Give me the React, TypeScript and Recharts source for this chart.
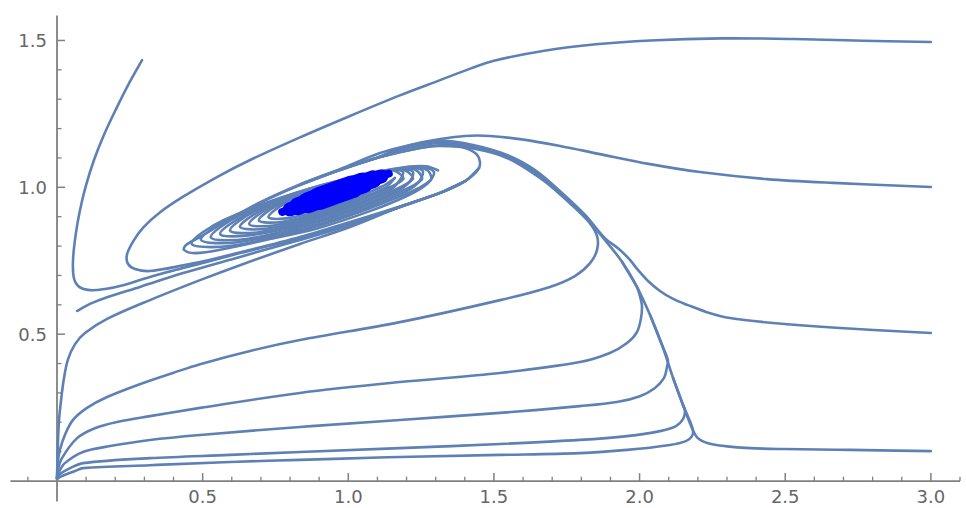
import React from 'react';
import { LineChart, Line, XAxis, YAxis, ReferenceLine } from 'recharts';

// ---- trajectories (x, y) ----
const trajA = [[3.0,1.495],[2.77,1.499],[2.527,1.505],[2.279,1.507],[2.036,1.5],[1.85,1.487],[1.668,1.464],[1.5,1.431],[1.421,1.405],[1.315,1.365],[1.177,1.313],[1.006,1.243],[0.834,1.17],[0.663,1.093],[0.549,1.035],[0.433,0.968],[0.354,0.915],[0.295,0.862],[0.261,0.815],[0.24,0.77],[0.244,0.739],[0.268,0.722],[0.319,0.715],[0.491,0.746],[0.663,0.787],[0.834,0.831],[1.006,0.882],[1.177,0.935],[1.315,0.981],[1.401,1.021],[1.449,1.066]];
const trajB = [[0.292,1.433],[0.244,1.348],[0.201,1.263],[0.161,1.178],[0.127,1.093],[0.1,1.008],[0.079,0.923],[0.064,0.838],[0.055,0.752],[0.058,0.691],[0.076,0.661],[0.113,0.65],[0.165,0.654],[0.227,0.667],[0.319,0.695],[0.433,0.725],[0.628,0.776],[0.834,0.827],[1.006,0.875],[1.177,0.933],[1.315,0.981],[1.401,1.021]];
const trajS = [[0.069,0.579],[0.113,0.603],[0.172,0.626],[0.285,0.661],[0.433,0.708],[0.628,0.763],[0.834,0.821],[1.006,0.872],[1.177,0.933],[1.315,0.981]];
const trajF = [[0,0.01],[0.003,0.123],[0.007,0.208],[0.014,0.276],[0.024,0.351],[0.038,0.415],[0.062,0.466],[0.096,0.504],[0.172,0.552],[0.319,0.616],[0.491,0.684],[0.628,0.735],[0.834,0.807],[1.006,0.865],[1.177,0.933],[1.315,0.981],[1.401,1.021]];
const trajG = [[0,0.01],[0.003,0.065],[0.01,0.106],[0.027,0.157],[0.055,0.208],[0.103,0.249],[0.172,0.286],[0.285,0.33],[0.398,0.368],[0.491,0.398],[0.663,0.443],[0.834,0.48],[1.177,0.541],[1.521,0.616],[1.692,0.661],[1.778,0.698],[1.83,0.742],[1.854,0.787],[1.854,0.834],[1.826,0.882],[1.778,0.93],[1.71,0.991],[1.658,1.032],[1.545,1.1],[1.428,1.132],[1.315,1.141],[1.246,1.134],[1.109,1.103],[0.971,1.059]];
const trajH = [[0,0.01],[0.003,0.037],[0.017,0.078],[0.069,0.146],[0.13,0.18],[0.206,0.201],[0.319,0.221],[0.491,0.249],[0.834,0.3],[1.177,0.337],[1.521,0.368],[1.795,0.405],[1.898,0.436],[1.957,0.47],[1.991,0.507],[2.005,0.555],[2.008,0.599],[2.001,0.63],[1.991,0.661],[1.94,0.746]];
const trajI = [[0,0.01],[0.007,0.031],[0.027,0.061],[0.089,0.099],[0.182,0.119],[0.319,0.14],[0.491,0.157],[0.834,0.184],[1.177,0.208],[1.521,0.232],[1.795,0.255],[1.922,0.269],[2.001,0.289],[2.053,0.317],[2.084,0.351],[2.094,0.388],[2.097,0.412],[2.077,0.463],[2.036,0.565]];
const trajJ = [[0,0.01],[0.01,0.024],[0.045,0.044],[0.089,0.061],[0.319,0.078],[0.594,0.089],[0.834,0.099],[1.177,0.112],[1.521,0.126],[1.795,0.14],[1.957,0.153],[2.07,0.17],[2.125,0.187],[2.149,0.211],[2.156,0.238],[2.149,0.259],[2.115,0.351]];
const trajK = [[0,0.007],[0.017,0.017],[0.062,0.034],[0.089,0.044],[0.319,0.054],[0.594,0.065],[0.834,0.072],[1.177,0.082],[1.521,0.089],[1.795,0.095],[1.957,0.106],[2.104,0.123],[2.159,0.136],[2.18,0.153],[2.183,0.174],[2.166,0.22],[2.149,0.259]];
const trajE = [[3.0,0.102],[2.722,0.106],[2.492,0.109],[2.379,0.112],[2.293,0.119],[2.235,0.129],[2.2,0.146],[2.18,0.18],[2.149,0.259],[2.115,0.351],[2.077,0.463],[2.036,0.565],[1.991,0.661],[1.94,0.746],[1.881,0.821],[1.813,0.899],[1.727,0.981],[1.641,1.052],[1.545,1.103],[1.428,1.137],[1.315,1.151],[1.177,1.127],[1.109,1.103],[0.971,1.059],[0.834,1.008]];
const trajD = [[3.0,0.504],[2.688,0.521],[2.458,0.538],[2.31,0.555],[2.231,0.575],[2.166,0.599],[2.115,0.62],[2.07,0.647],[2.029,0.681],[1.995,0.718],[1.964,0.756],[1.929,0.79],[1.881,0.827],[1.813,0.906],[1.727,0.987],[1.641,1.059],[1.545,1.11],[1.428,1.144],[1.315,1.158],[1.177,1.134],[1.109,1.105],[0.971,1.06],[0.834,1.009]];
const trajC = [[3.0,1.001],[2.664,1.015],[2.437,1.028],[2.207,1.052],[2.036,1.079],[1.864,1.113],[1.727,1.141],[1.589,1.164],[1.486,1.175],[1.401,1.175],[1.315,1.164],[1.212,1.144],[1.109,1.117],[0.971,1.062],[0.834,1.01],[0.697,0.949],[0.577,0.884]];
const spiral = [[1.006,0.875],[1.177,0.933],[1.315,0.981],[1.401,1.021],[1.449,1.066],[1.445,1.107],[1.401,1.134],[1.332,1.144],[1.246,1.134],[1.109,1.103],[0.971,1.059],[0.834,1.008],[0.697,0.947],[0.577,0.882],[0.491,0.831],[0.443,0.804],[0.436,0.787],[0.474,0.776],[0.573,0.79],[0.731,0.824],[0.896,0.861],[1.074,0.919],[1.208,0.974],[1.274,1.015],[1.294,1.052],[1.253,1.069],[1.16,1.062],[0.875,0.998],[0.597,0.895],[0.494,0.821],[0.625,0.814],[0.91,0.878],[1.188,0.981],[1.239,1.015],[1.256,1.055],[1.222,1.066],[1.143,1.059],[0.893,1.001],[0.652,0.909],[0.56,0.841],[0.673,0.838],[0.923,0.895],[1.167,0.987],[1.212,1.021],[1.222,1.052],[1.195,1.062],[1.126,1.057],[0.91,1.005],[0.704,0.923],[0.628,0.865],[0.724,0.86],[0.941,0.913],[1.147,0.994],[1.177,1.025],[1.188,1.051],[1.164,1.059],[1.105,1.054],[0.927,1.008],[0.755,0.938],[0.693,0.887],[0.776,0.883],[0.954,0.93],[1.126,0.998],[1.16,1.032]];
const spiral2 = [[1.308,1.058],[1.268,1.072],[1.171,1.065],[0.866,0.995],[0.573,0.889],[0.462,0.808],[0.599,0.801],[0.904,0.871],[1.197,0.977],[1.283,1.025],
  [1.274,1.056],[1.239,1.068],[1.152,1.062],[0.884,0.999],[0.625,0.903],[0.528,0.83],[0.649,0.824],[0.918,0.888],[1.176,0.984],[1.252,1.026],
  [1.239,1.054],[1.209,1.065],[1.134,1.059],[0.901,1.002],[0.677,0.917],[0.594,0.853],[0.699,0.848],[0.932,0.905],[1.156,0.99],[1.221,1.028],
  [1.205,1.052],[1.179,1.061],[1.115,1.056],[0.919,1.006],[0.73,0.931],[0.66,0.875],[0.749,0.871],[0.946,0.921],[1.135,0.996],[1.189,1.029],
  [1.171,1.05],[1.149,1.058],[1.097,1.053],[0.936,1.009],[0.782,0.945],[0.726,0.898],[0.8,0.896],[0.961,0.938],[1.114,1.002],[1.159,1.031]];

// blue focus blob (centre-line segments, widest in the middle)
const blue1 = [[0.773,0.916],[1.139,1.047]];
const blue2 = [[0.799,0.925],[1.113,1.037]];
const blue3 = [[0.828,0.936],[1.084,1.027]];
const blue4 = [[0.862,0.948],[1.05,1.015]];
const blue5 = [[0.901,0.962],[1.011,1.001]];

// ---- axis ticks ----
const xMinorTicks = [-0.1,0.1,0.2,0.3,0.4,0.6,0.7,0.8,0.9,1.1,1.2,1.3,1.4,1.6,1.7,1.8,1.9,2.1,2.2,2.3,2.4,2.6,2.7,2.8,2.9,3.1];
const xMajorTicks = [0.5,1.0,1.5,2.0,2.5,3.0];
const xMajorLabels = ['0.5','1.0','1.5','2.0','2.5','3.0'];
const yMinorTicks = [0.1,0.2,0.3,0.4,0.6,0.7,0.8,0.9,1.1,1.2,1.3,1.4];
const yMajorTicks = [0.5,1.0,1.5];
const yMajorLabels = ['0.5','1.0','1.5'];

const X_DOMAIN: [number, number] = [-0.16, 3.1];
const Y_DOMAIN: [number, number] = [-0.07, 1.585];

const LINE_COLOR = '#5E81B5';
const BLUE = '#0000FF';
const AXIS_COLOR = '#808080';
const LABEL_COLOR = '#666666';
const FONT = '"DejaVu Sans", sans-serif';

const X_MAJOR_LEN = 0.027; // in y units
const X_MINOR_LEN = 0.015;
const Y_MAJOR_LEN = 0.0275; // in x units
const Y_MINOR_LEN = 0.0155;

// smooth curve through points (chord-scaled Catmull-Rom)
function smoothCurve(context: any) {
  let pts: number[][] = [];
  return {
    areaStart() {},
    areaEnd() {},
    lineStart() { pts = []; },
    point(x: number, y: number) { pts.push([+x, +y]); },
    lineEnd() {
      const n = pts.length;
      if (!n) return;
      context.moveTo(pts[0][0], pts[0][1]);
      if (n === 1) return;
      if (n === 2) { context.lineTo(pts[1][0], pts[1][1]); return; }
      const d = (a: number[], b: number[]) => Math.hypot(b[0] - a[0], b[1] - a[1]) || 1e-6;
      for (let i = 0; i < n - 1; i++) {
        const p0 = pts[Math.max(i - 1, 0)];
        const p1 = pts[i];
        const p2 = pts[i + 1];
        const p3 = pts[Math.min(i + 2, n - 1)];
        const d12 = d(p1, p2);
        const d01 = i > 0 ? d(p0, p1) : d12;
        const d23 = i + 2 < n ? d(p2, p3) : d12;
        const k1 = d12 / (d01 + d12) / 3;
        const k2 = d12 / (d12 + d23) / 3;
        const c1x = p1[0] + (p2[0] - p0[0]) * k1;
        const c1y = p1[1] + (p2[1] - p0[1]) * k1;
        const c2x = p2[0] - (p3[0] - p1[0]) * k2;
        const c2y = p2[1] - (p3[1] - p1[1]) * k2;
        context.bezierCurveTo(c1x, c1y, c2x, c2y, p2[0], p2[1]);
      }
    },
  };
}

const toPts = (arr: number[][]) => arr.map(([x, y]) => ({ x, y }));

const trajectories = [trajA, trajB, trajS, trajF, trajG, trajH, trajI, trajJ, trajK, trajE, trajD, trajC, spiral, spiral2];
const blueLayers: [number[][], number][] = [[blue1, 8], [blue2, 14], [blue3, 18], [blue4, 21], [blue5, 23]];

export default function App() {
  return (
    <div style={{ position: 'absolute', left: 0, top: 0, background: '#ffffff' }}>
      <LineChart width={966} height={508} margin={{ top: 15.5, right: 6, bottom: 6.4, left: 10.4 }}>
        <XAxis type="number" dataKey="x" domain={X_DOMAIN} allowDataOverflow hide />
        <YAxis type="number" domain={Y_DOMAIN} allowDataOverflow hide />

        <ReferenceLine segment={[{ x: X_DOMAIN[0], y: 0 }, { x: X_DOMAIN[1], y: 0 }]} stroke={AXIS_COLOR} strokeWidth={1.8} ifOverflow="visible" />
        <ReferenceLine segment={[{ x: 0, y: Y_DOMAIN[0] }, { x: 0, y: Y_DOMAIN[1] }]} stroke={AXIS_COLOR} strokeWidth={1.8} ifOverflow="visible" />

        {xMinorTicks.map((v) => (
          <ReferenceLine key={'xm' + v} segment={[{ x: v, y: 0 }, { x: v, y: X_MINOR_LEN }]} stroke={AXIS_COLOR} strokeWidth={1.3} ifOverflow="visible" />
        ))}
        {xMajorTicks.map((v, i) => (
          <ReferenceLine
            key={'xM' + v}
            segment={[{ x: v, y: 0 }, { x: v, y: X_MAJOR_LEN }]}
            stroke={AXIS_COLOR}
            strokeWidth={1.5}
            ifOverflow="visible"
            label={{ value: xMajorLabels[i], position: 'bottom', offset: 9, fill: LABEL_COLOR, fontSize: 18, fontFamily: FONT }}
          />
        ))}
        {yMinorTicks.map((v) => (
          <ReferenceLine key={'ym' + v} segment={[{ x: 0, y: v }, { x: Y_MINOR_LEN, y: v }]} stroke={AXIS_COLOR} strokeWidth={1.3} ifOverflow="visible" />
        ))}
        {yMajorTicks.map((v, i) => (
          <ReferenceLine
            key={'yM' + v}
            segment={[{ x: 0, y: v }, { x: Y_MAJOR_LEN, y: v }]}
            stroke={AXIS_COLOR}
            strokeWidth={1.5}
            ifOverflow="visible"
            label={{ value: yMajorLabels[i], position: 'left', offset: 10, fill: LABEL_COLOR, fontSize: 18, fontFamily: FONT }}
          />
        ))}

        {trajectories.map((t, i) => (
          <Line
            key={'t' + i}
            data={toPts(t)}
            dataKey="y"
            type={smoothCurve as any}
            stroke={LINE_COLOR}
            strokeWidth={2.6}
            strokeLinejoin="round"
            strokeLinecap="round"
            dot={false}
            activeDot={false}
            isAnimationActive={false}
          />
        ))}
        {blueLayers.map(([t, w], i) => (
          <Line
            key={'b' + i}
            data={toPts(t)}
            dataKey="y"
            type="linear"
            stroke={BLUE}
            strokeWidth={w}
            strokeLinecap="round"
            dot={false}
            activeDot={false}
            isAnimationActive={false}
          />
        ))}
      </LineChart>
    </div>
  );
}
